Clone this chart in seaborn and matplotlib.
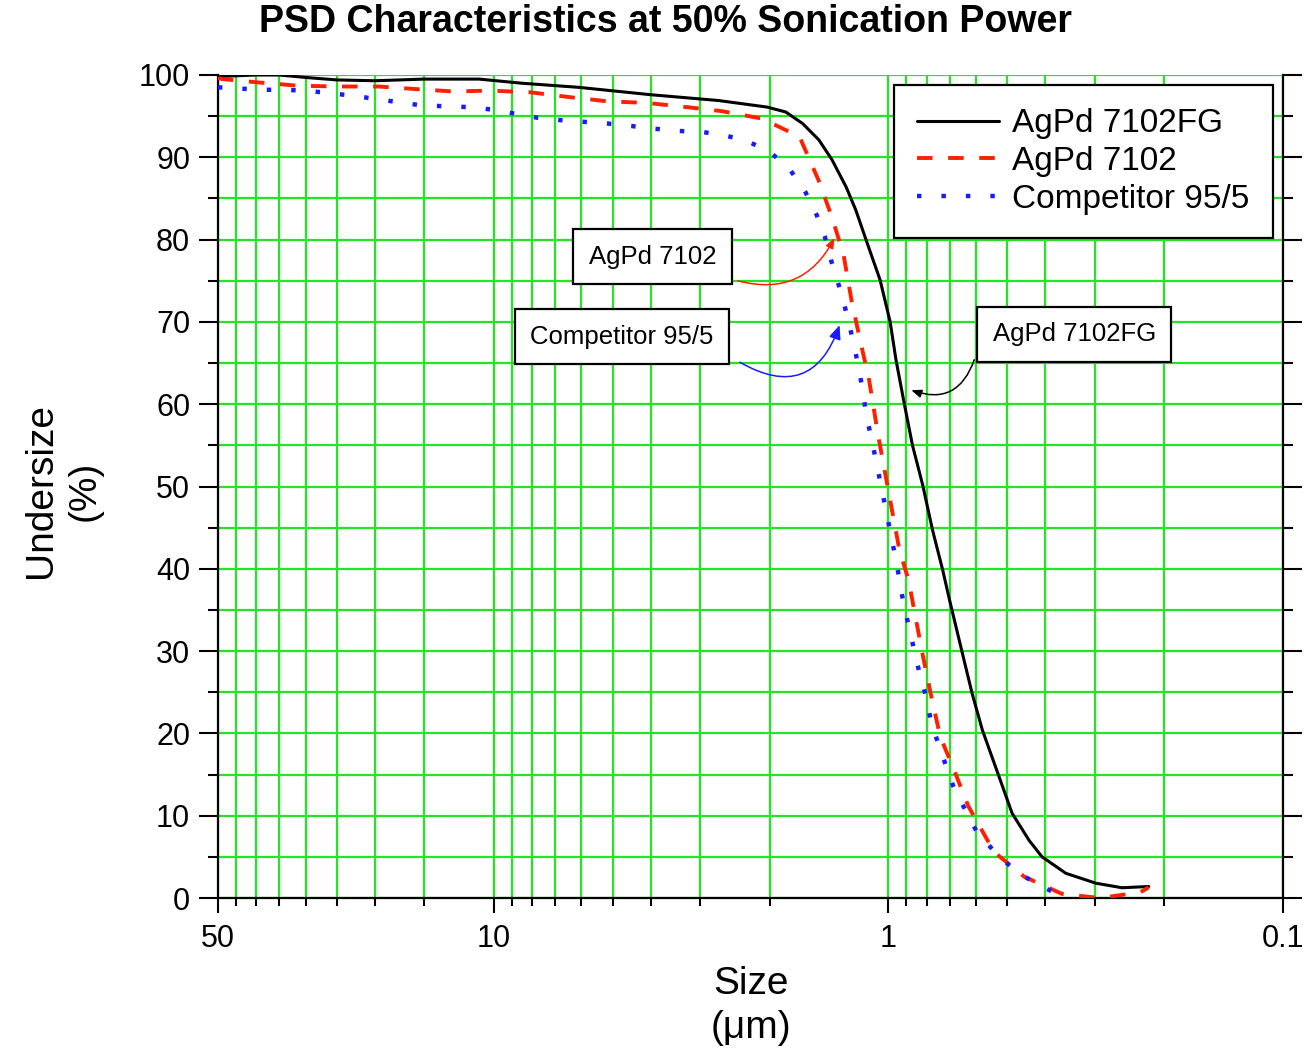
import matplotlib
matplotlib.use("Agg")
import matplotlib.pyplot as plt
import pandas as pd
import seaborn as sns
from matplotlib.ticker import FixedLocator, NullFormatter

# values (size in um, undersize in %)
FG_SIZE = [50, 45, 40, 35, 30, 25, 20, 15, 12, 10.9, 8.5, 6.1, 4.0, 2.7, 2.03,
           1.82, 1.65, 1.50, 1.39, 1.28, 1.21, 1.14, 1.05, 0.99, 0.957, 0.912,
           0.869, 0.819, 0.773, 0.729, 0.70, 0.65, 0.614, 0.578, 0.524,
           0.486, 0.44, 0.408, 0.355, 0.298, 0.256, 0.219]
FG_UNDER = [99.8, 99.9, 100, 100, 99.7, 99.4, 99.3, 99.5, 99.5, 99.5, 99.0, 98.5,
            97.6, 96.9, 96.1, 95.5, 94.1, 92.1, 89.7, 86.4, 83.6, 80.0, 75.1,
            70.0, 65.4, 60.1, 55.0, 50.2, 44.7, 39.9, 36.2, 29.8, 24.9,
            20.4, 14.7, 10.3, 7.0, 5.0, 3.0, 1.8, 1.25, 1.4]

STD_SIZE = [50, 48.6, 39.6, 31.4, 25.0, 19.6, 15.9, 12.7, 10.2, 8.1, 6.4, 5.15,
            4.08, 3.25, 2.64, 2.09, 1.68, 1.50, 1.39, 1.30, 1.24, 1.18, 1.12,
            1.06, 0.938, 0.889, 0.849, 0.816, 0.778, 0.739, 0.685, 0.628, 0.54,
            0.453, 0.363, 0.291, 0.230, 0.219]
STD_UNDER = [99.6, 99.5, 99.1, 98.7, 98.6, 98.6, 98.3, 98.0, 98.1, 97.9, 97.3,
             96.8, 96.6, 96.1, 95.6, 94.7, 92.5, 87.1, 82.7, 78.2, 72.6, 67.8,
             63.0, 56.0, 42.3, 38.6, 33.5, 29.2, 24.4, 19.6, 15.8, 11.2, 5.6,
             2.6, 0.5, 0.0, 0.7, 1.3]

COMP_SIZE = [50, 45.3, 39.6, 34.5, 29.9, 26.2, 22.9, 20.0, 17.5, 15.2, 13.3,
             11.6, 10.1, 8.85, 7.74, 6.73, 5.89, 5.15, 4.48, 3.97, 3.43, 2.99,
             2.62, 2.29, 2.00, 1.77, 1.62, 1.52, 1.45, 1.40, 1.35, 1.30, 1.26,
             1.22, 1.19, 1.16, 1.14, 1.11, 1.08, 0.95, 0.93, 0.906, 0.88, 0.855,
             0.83, 0.80, 0.78, 0.748, 0.715, 0.684, 0.64, 0.598, 0.531, 0.471,
             0.409, 0.355]
COMP_UNDER = [98.5, 98.4, 98.2, 98.2, 98.1, 97.8, 97.5, 97.1, 96.7, 96.3, 96.2,
              96.1, 95.8, 95.3, 94.8, 94.5, 94.3, 94.1, 93.8, 93.5, 93.2, 93.1,
              92.7, 92.0, 90.7, 88.4, 85.7, 83.0, 80.4, 77.6, 75.2, 72.5, 69.9,
              67.0, 64.4, 61.5, 58.9, 56.3, 53.6, 40.3, 37.5, 34.8, 32.2, 29.5,
              26.9, 24.2, 21.4, 18.8, 16.1, 13.5, 10.8, 8.1, 5.3, 3.1, 1.4, 0.0]

SERIES = ["AgPd 7102FG", "AgPd 7102", "Competitor 95/5"]
X_MAJOR = [50, 10, 1, 0.1]
X_MAJOR_LABELS = ["50", "10", "1", "0.1"]
X_MINOR = [45, 40, 35, 30, 25, 20, 15, 9, 8, 7, 6, 5, 4, 3, 2,
           0.9, 0.8, 0.7, 0.6, 0.5, 0.4, 0.3, 0.2]

GREEN = "#22e622"
RED = "#ff2000"
BLUE = "#1a1aff"

sns.set_theme(style="white")
plt.rcParams["font.family"] = ["Liberation Sans", "DejaVu Sans"]
plt.rcParams["text.color"] = "black"
plt.rcParams["axes.labelcolor"] = "black"

fig = plt.figure(figsize=(13.13, 10.59), dpi=100)
ax = fig.add_axes([0.166, 0.152, 0.8112, 0.7772])
ax.set_xscale("log")

styles = [
    (FG_SIZE, FG_UNDER, "black", "-", 2.2),
    (STD_SIZE, STD_UNDER, RED, (0, (4, 4)), 2.8),
    (COMP_SIZE, COMP_UNDER, BLUE, (0, (1, 4.5)), 3.2),
]
for name, (xs, ys, col, ls, lw) in zip(SERIES, styles):
    df = pd.DataFrame({"size": xs, "under": ys})
    sns.lineplot(data=df, x="size", y="under", ax=ax, color=col,
                 linestyle=ls, linewidth=lw, label=name, sort=False,
                 estimator=None, zorder=3)

ax.set_xlim(50, 0.1)
ax.set_ylim(0, 100)
ax.xaxis.set_major_locator(FixedLocator(X_MAJOR))
ax.set_xticks(X_MAJOR, X_MAJOR_LABELS)
ax.xaxis.set_minor_locator(FixedLocator(X_MINOR))
ax.xaxis.set_minor_formatter(NullFormatter())
ax.set_yticks(range(0, 101, 10))
ax.set_yticks(range(5, 100, 10), minor=True)

ax.grid(which="both", color=GREEN, linewidth=1.6)
ax.set_axisbelow(True)

for side in ["left", "right", "bottom"]:
    ax.spines[side].set_color("black")
    ax.spines[side].set_linewidth(1.6)
ax.spines["top"].set_visible(False)

ax.tick_params(axis="y", which="both", left=True, right=True, direction="out",
               width=1.5, colors="black", labelsize=22, pad=6)
ax.tick_params(axis="y", which="major", length=14)
ax.tick_params(axis="y", which="minor", length=7)
ax.tick_params(axis="x", which="both", bottom=True, top=False, direction="out",
               width=1.5, colors="black", labelsize=22, pad=8)
ax.tick_params(axis="x", which="major", length=11)
ax.tick_params(axis="x", which="minor", length=6)

ax.set_xlabel("Size\n(\u03bcm)", fontsize=28, linespacing=1.3)
ax.xaxis.set_label_coords(0.5, -0.082)
ax.set_ylabel("Undersize\n(%)", fontsize=28, linespacing=1.3)
ax.yaxis.set_label_coords(-0.108, 0.495)

fig.text(0.507, 0.979, "PSD Characteristics at 50% Sonication Power",
         ha="center", va="center", fontsize=27, fontweight="bold")

leg = ax.legend(loc="upper right", bbox_to_anchor=(0.9906, 0.988),
                borderaxespad=0, fontsize=24, handlelength=2.45,
                handletextpad=0.4, labelspacing=0.2, borderpad=0.7,
                fancybox=False, framealpha=1, edgecolor="black")
leg.get_frame().set_linewidth(1.6)

box = dict(boxstyle="square,pad=0.6", facecolor="white", edgecolor="black",
           linewidth=1.6)
ax.text(0.408, 0.779, "AgPd 7102", transform=ax.transAxes, ha="center",
        va="center", fontsize=18.5, bbox=box, zorder=5)
ax.text(0.379, 0.682, "Competitor 95/5", transform=ax.transAxes, ha="center",
        va="center", fontsize=18.5, bbox=box, zorder=5)
ax.text(0.804, 0.685, "AgPd 7102FG", transform=ax.transAxes, ha="center",
        va="center", fontsize=18.5, bbox=box, zorder=5)

ax.annotate("", xy=(1.37, 80.2), xytext=(2.41, 75.0),
            arrowprops=dict(arrowstyle="-|>,head_length=0.5,head_width=0.2",
                            color=RED, lw=1.1,
                            connectionstyle="arc3,rad=0.4",
                            shrinkA=0, shrinkB=0), zorder=4)
ax.annotate("", xy=(1.33, 69.6), xytext=(2.38, 65.1),
            arrowprops=dict(arrowstyle="-|>,head_length=0.7,head_width=0.3",
                            color=BLUE, lw=1.1,
                            connectionstyle="arc3,rad=0.6",
                            shrinkA=0, shrinkB=0), zorder=4)
ax.annotate("", xy=(0.875, 61.7), xytext=(0.606, 65.4),
            arrowprops=dict(arrowstyle="-|>,head_length=0.5,head_width=0.2",
                            color="black", lw=1.1,
                            connectionstyle="arc3,rad=-0.5",
                            shrinkA=0, shrinkB=0), zorder=4)

fig.savefig("out.png", dpi=100)
